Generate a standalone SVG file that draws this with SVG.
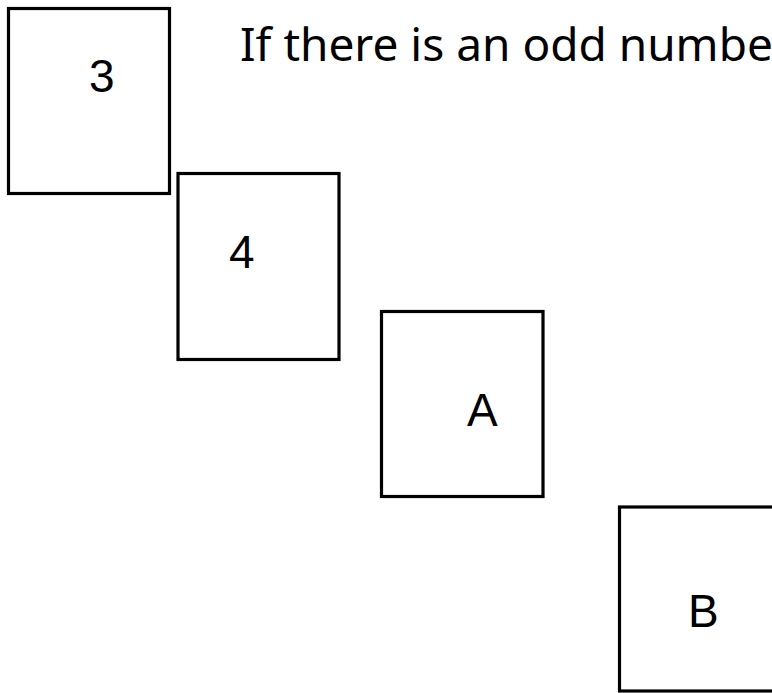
<svg xmlns="http://www.w3.org/2000/svg" width="772" height="693" viewBox="0 0 772 693">
<style>
.box{fill:#fff;stroke:#000;stroke-width:3.2}
.lbl{font-family:"Liberation Sans",Arial,sans-serif;font-size:46px;fill:#000}
.title{font-family:"Noto Sans","DejaVu Sans",sans-serif;font-size:46px;fill:#000}
</style>
<rect width="772" height="693" fill="#fff"/>
<g id="connectors"></g>
<g id="node-3">
<rect class="box" x="8.5" y="8.5" width="161" height="185"/>
<text class="lbl" x="89" y="92">3</text>
</g>
<g id="node-4">
<rect class="box" x="178" y="173.5" width="161" height="186"/>
<text class="lbl" x="229" y="268">4</text>
</g>
<g id="node-A">
<rect class="box" x="381.5" y="311.5" width="161.5" height="185"/>
<text class="lbl" x="467" y="426">A</text>
</g>
<g id="node-B">
<rect class="box" x="619.5" y="507" width="161" height="184"/>
<text class="lbl" x="688" y="627">B</text>
</g>
<text id="title" class="title" x="240" y="61">If there is an odd number</text>
</svg>
